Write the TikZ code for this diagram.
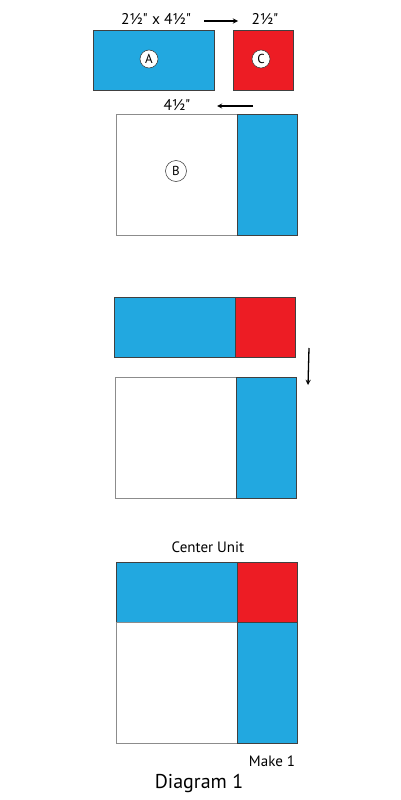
\documentclass[tikz,border=0pt]{standalone}
\usepackage{fontspec}
\setmainfont{PT Sans}[Ligatures=TeXOff]
\usetikzlibrary{arrows,positioning}
\definecolor{quiltblue}{HTML}{22A8E0}
\definecolor{quiltred}{HTML}{ED1C24}
\tikzset
{
    patch/.style 2 args = {rectangle, anchor=north west, inner sep=0pt, outer sep=0pt, minimum width=#1, minimum height=#2, line width=0.6pt},
    bluepatch/.style 2 args = {patch={#1}{#2}, fill=quiltblue, draw=black!75},
    redpatch/.style 2 args  = {patch={#1}{#2}, fill=quiltred, draw=black!75},
    whitepatch/.style 2 args = {patch={#1}{#2}, fill=white, draw=black!45},
    badge/.style   = {circle, fill=white, draw=black!80, line width=0.5pt, minimum size=18pt, inner sep=0pt, font=\fontsize{13}{13}\selectfont},
    measure/.style = {inner sep=0pt, font=\fontsize{15.5}{15.5}\selectfont},
    caption/.style = {inner sep=0pt, font=\fontsize{15}{15}\selectfont},
    arrow/.style   = {line width=1.3pt, ->, >=stealth}
}

\begin{document}
\begin{tikzpicture}[x=1pt, y=-1pt]
   \useasboundingbox (0, 0) rectangle (400, 800);

   \newcommand\LONGW{121pt}
   \newcommand\SHORTW{60.5pt}

   % cut pieces
   \node (a)  [bluepatch={\LONGW}{\SHORTW}]    at (93, 30)       {};
   \node (c)  [redpatch={\SHORTW}{\SHORTW}]    at (233, 30)      {};
   \node (b)  [whitepatch={\LONGW}{\LONGW}]    at (116, 114)     {};
   \node (bs) [bluepatch={\SHORTW}{\LONGW}]    at (b.north east) {};

   \node (la) [badge]                          at (149, 59)      {A};
   \node (lc) [badge]                          at (261, 59)      {C};
   \node (lb) [badge, minimum size=21pt]       at (176, 171)     {B};

   \node (ma) [measure]                        at (156, 19)      {2½" x 4½"};
   \node (mc) [measure]                        at (265, 19)      {2½"};
   \node (mb) [measure]                        at (177, 105)     {4½"};

   % sewing
   \node (d)  [bluepatch={\LONGW}{\SHORTW}]    at (114, 297)     {};
   \node (e)  [redpatch={\SHORTW}{\SHORTW}]    at (d.north east) {};
   \node (f)  [whitepatch={\LONGW}{\LONGW}]    at (115, 377)     {};
   \node (g)  [bluepatch={\SHORTW}{\LONGW}]    at (f.north east) {};

   % finished unit
   \node (cu) [caption]                        at (208, 547)     {Center Unit};
   \node (h)  [bluepatch={\LONGW}{\SHORTW}]    at (116, 562)     {};
   \node (i)  [redpatch={\SHORTW}{\SHORTW}]    at (h.north east) {};
   \node (j)  [whitepatch={\LONGW}{\LONGW}]    at (h.south west) {};
   \node (k)  [bluepatch={\SHORTW}{\LONGW}]    at (j.north east) {};
   \node (mk) [caption]                        at (272, 761)     {Make 1};
   \node (dg) [caption, font=\fontsize{20}{20}\selectfont] at (199, 783) {Diagram 1};

   \coordinate (p1) at (204, 21);
   \coordinate (p2) at (238, 21);
   \coordinate (p3) at (253, 106);
   \coordinate (p4) at (217, 106);
   \coordinate (p5) at (309, 348);
   \coordinate (p6) at (308, 385);

   \path
      (p1) edge[arrow] (p2)
      (p3) edge[arrow] (p4)
      (p5) edge[arrow] (p6);
\end{tikzpicture}
\end{document}
